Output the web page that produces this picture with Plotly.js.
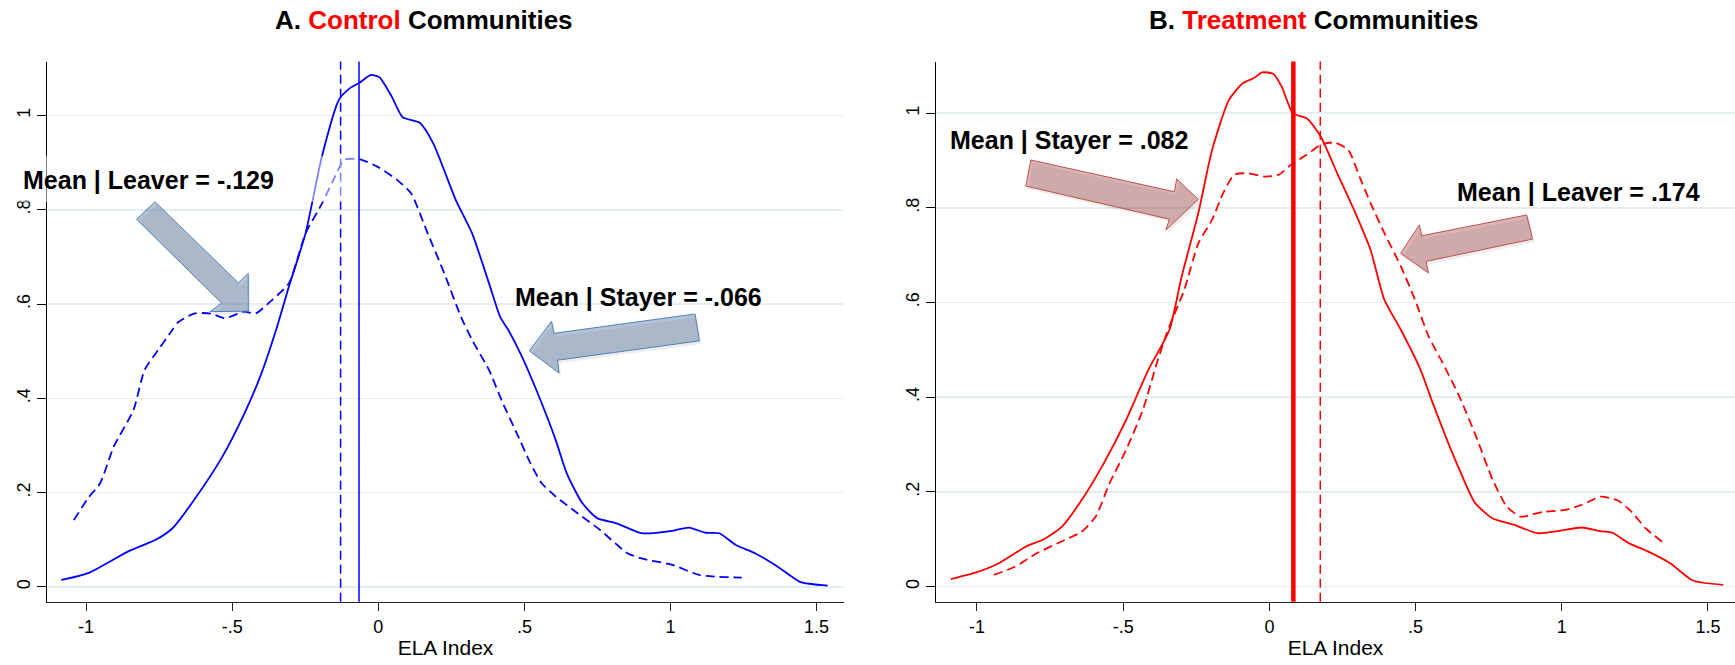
<!DOCTYPE html>
<html>
<head>
<meta charset="utf-8">
<script src="https://cdn.plot.ly/plotly-3.0.1.min.js"></script>
<style>html,body{margin:0;padding:0;background:#fff;}#chart{width:1735px;height:665px;}</style>
</head>
<body>
<div id="chart"></div>
<script>
// ---- Data ----
// Panel A: Control communities
const ctrlStayerX = [-1.085,-0.99,-0.857,-0.762,-0.705,-0.63,-0.534,-0.458,-0.40,-0.35,-0.306,-0.249,-0.193,-0.135,-0.097,-0.063,-0.025,0.004,0.046,0.084,0.141,0.188,0.265,0.321,0.379,0.417,0.445,0.492,0.55,0.607,0.645,0.698,0.749,0.816,0.901,1.006,1.063,1.12,1.167,1.224,1.291,1.367,1.443,1.538];
const ctrlStayerY = [0.015,0.030,0.075,0.10,0.124,0.185,0.276,0.368,0.453,0.545,0.637,0.750,0.913,1.033,1.058,1.070,1.086,1.081,1.040,0.996,0.985,0.941,0.821,0.750,0.644,0.573,0.545,0.488,0.404,0.312,0.241,0.178,0.146,0.135,0.114,0.119,0.126,0.115,0.114,0.089,0.071,0.043,0.011,0.003];
const ctrlLeaverX = [-1.042,-0.99,-0.952,-0.905,-0.838,-0.80,-0.753,-0.705,-0.686,-0.63,-0.573,-0.525,-0.458,-0.42,-0.363,-0.306,-0.249,-0.192,-0.154,-0.116,-0.063,-0.002,0.065,0.112,0.169,0.226,0.283,0.321,0.379,0.426,0.474,0.521,0.559,0.607,0.683,0.759,0.854,0.911,1.006,1.101,1.244];
const ctrlLeaverY = [0.142,0.191,0.220,0.298,0.375,0.46,0.503,0.545,0.561,0.58,0.58,0.570,0.584,0.58,0.609,0.644,0.750,0.814,0.863,0.906,0.907,0.891,0.863,0.835,0.750,0.665,0.573,0.524,0.46,0.390,0.326,0.262,0.220,0.192,0.156,0.121,0.071,0.059,0.047,0.025,0.020];
// Panel B: Treatment communities
const treatStayerX = [-1.089,-1.003,-0.927,-0.832,-0.775,-0.709,-0.642,-0.566,-0.49,-0.414,-0.342,-0.30,-0.243,-0.196,-0.139,-0.091,-0.053,-0.025,0.013,0.042,0.080,0.128,0.175,0.232,0.289,0.346,0.393,0.45,0.517,0.555,0.603,0.65,0.703,0.764,0.84,0.916,0.992,1.068,1.125,1.172,1.229,1.296,1.372,1.448,1.552];
const treatStayerY = [0.016,0.030,0.049,0.085,0.099,0.127,0.183,0.261,0.352,0.458,0.542,0.655,0.789,0.922,1.027,1.063,1.074,1.086,1.083,1.056,1.0,0.989,0.951,0.873,0.796,0.711,0.606,0.542,0.458,0.394,0.317,0.247,0.177,0.144,0.130,0.113,0.118,0.125,0.118,0.114,0.092,0.074,0.049,0.013,0.004];
const treatLeaverX = [-0.942,-0.87,-0.794,-0.699,-0.642,-0.594,-0.547,-0.49,-0.433,-0.385,-0.347,-0.291,-0.243,-0.196,-0.158,-0.12,-0.072,-0.015,0.032,0.08,0.128,0.175,0.222,0.27,0.308,0.346,0.393,0.45,0.498,0.545,0.593,0.65,0.707,0.764,0.812,0.859,0.935,1.011,1.068,1.134,1.192,1.239,1.287,1.343];
const treatLeaverY = [0.025,0.042,0.071,0.099,0.116,0.148,0.218,0.289,0.373,0.472,0.542,0.627,0.725,0.775,0.831,0.870,0.873,0.866,0.870,0.894,0.912,0.933,0.938,0.922,0.866,0.810,0.747,0.676,0.606,0.528,0.472,0.401,0.317,0.225,0.169,0.148,0.158,0.162,0.173,0.190,0.182,0.158,0.123,0.095];

// Group means (vertical lines)
const ctrlMeanLeaver = -0.129, ctrlMeanStayer = -0.066;
const treatMeanStayer = 0.082, treatMeanLeaver = 0.174;

// Tick labels
const xTickVals = [-1,-0.5,0,0.5,1,1.5];
const xTickText = ["-1","-.5","0",".5","1","1.5"];
const yTickVals = [0,0.2,0.4,0.6,0.8,1];
const yTickText = ["0",".2",".4",".6",".8","1"];

// Callout labels
const labelCtrlLeaver = "Mean | Leaver = -.129";
const labelCtrlStayer = "Mean | Stayer = -.066";
const labelTreatStayer = "Mean | Stayer = .082";
const labelTreatLeaver = "Mean | Leaver = .174";

// ---- Styling ----
const BLUE = "#0000ff", RED = "#ff0000";
const FONT = "Liberation Sans, Arial, Helvetica, sans-serif";
const DASH = "9px,5px";
const W = 1735, H = 665;

const traces = [
  {x: ctrlStayerX, y: ctrlStayerY, xaxis:"x", yaxis:"y", mode:"lines", line:{color:BLUE, width:1.8, shape:"spline", smoothing:0.6}, hoverinfo:"skip"},
  {x: ctrlLeaverX, y: ctrlLeaverY, xaxis:"x", yaxis:"y", mode:"lines", line:{color:BLUE, width:1.8, dash:DASH, shape:"spline", smoothing:0.6}, hoverinfo:"skip"},
  {x: treatStayerX, y: treatStayerY, xaxis:"x2", yaxis:"y2", mode:"lines", line:{color:RED, width:1.8, shape:"spline", smoothing:0.6}, hoverinfo:"skip"},
  {x: treatLeaverX, y: treatLeaverY, xaxis:"x2", yaxis:"y2", mode:"lines", line:{color:RED, width:1.8, dash:DASH, shape:"spline", smoothing:0.6}, hoverinfo:"skip"}
];

function xAxis(domain, range) {
  return {
    domain: domain, range: range, showgrid:false, zeroline:false,
    showline:true, linecolor:"#222", linewidth:1.4,
    ticks:"outside", ticklen:8, tickwidth:1, tickcolor:"#222",
    tickvals:xTickVals, ticktext:xTickText,
    tickfont:{family:FONT, size:18, color:"#000"},
    title:{text:"ELA Index", font:{family:FONT, size:21, color:"#000"}, standoff:4},
    fixedrange:true
  };
}
function yAxis(anchor, range) {
  return {
    domain:[0.0952, 0.9075], range: range, anchor: anchor,
    showgrid:true, gridcolor:"#e4edf1", gridwidth:1.6, zeroline:false,
    showline:true, linecolor:"#000", linewidth:1.3,
    ticks:"outside", ticklen:9, tickwidth:1, tickcolor:"#000",
    tickvals:yTickVals, ticktext:yTickText, tickangle:-90,
    tickfont:{family:FONT, size:18, color:"#000"},
    fixedrange:true
  };
}

function vline(xref, yref, xv, width, dash, color) {
  return {type:"line", xref:xref, yref:yref+" domain", x0:xv, x1:xv, y0:0, y1:1,
          line:{color:color, width:width, dash:dash}, layer:"above"};
}
function arrowPath(pts, dx, dy) {
  return "M " + pts.map(p => (p[0]+dx) + "," + (p[1]+dy)).join(" L ") + " Z";
}
function arrow(xref, yref, pts, fill, stroke) {
  return {type:"path", xref:xref, yref:yref, path:arrowPath(pts, 0, 0),
          fillcolor:fill, line:{color:stroke, width:1}, layer:"above"};
}
function shadow(xref, yref, pts) {
  // soft drop shadow, about 2px right and 3px down
  return {type:"path", xref:xref, yref:yref, path:arrowPath(pts, 0.007, -0.0065),
          fillcolor:"rgba(0,0,0,0.07)", line:{width:0}, layer:"above"};
}
const AFILL = "rgba(90,120,160,0.45)", ALINE = "rgb(79,129,189)";
const BFILL = "rgba(160,70,70,0.40)", BLINE = "rgb(192,80,77)";

const arrowA1 = [[-0.764,0.817],[-0.479,0.645],[-0.445,0.665],[-0.445,0.585],[-0.576,0.584],[-0.536,0.602],[-0.827,0.780]];
const arrowA2 = [[1.084,0.579],[1.099,0.522],[0.613,0.481],[0.619,0.454],[0.517,0.501],[0.593,0.564],[0.601,0.538]];
const arrowB1 = [[-0.816,0.901],[-0.833,0.846],[-0.342,0.776],[-0.354,0.753],[-0.243,0.818],[-0.317,0.861],[-0.325,0.834]];
const arrowB2 = [[0.880,0.785],[0.900,0.734],[0.536,0.687],[0.543,0.663],[0.449,0.704],[0.513,0.764],[0.521,0.741]];

const shapes = [
  vline("x","y", ctrlMeanLeaver, 1.5, DASH, BLUE),
  vline("x","y", ctrlMeanStayer, 1.5, "solid", BLUE),
  vline("x2","y2", treatMeanStayer, 4.5, "solid", RED),
  vline("x2","y2", treatMeanLeaver, 1.5, DASH, RED),
  // translucent white text box behind the panel-A leaver label
  {type:"rect", xref:"paper", yref:"paper", x0:15/W, x1:356/W, y0:1-202/H, y1:1-156/H,
   fillcolor:"rgba(255,255,255,0.5)", line:{width:0}, layer:"above"},
  shadow("x","y", arrowA1), shadow("x","y", arrowA2),
  shadow("x2","y2", arrowB1), shadow("x2","y2", arrowB2),
  arrow("x","y", arrowA1, AFILL, ALINE),
  arrow("x","y", arrowA2, AFILL, ALINE),
  arrow("x2","y2", arrowB1, BFILL, BLINE),
  arrow("x2","y2", arrowB2, BFILL, BLINE)
];

function label(xref, yref, x, y, text) {
  return {xref:xref, yref:yref, x:x, y:y, text:"<b>"+text+"</b>", showarrow:false,
          xanchor:"left", yanchor:"middle", font:{family:FONT, size:25, color:"#000"}};
}
const annotations = [
  {xref:"paper", yref:"paper", x:423.5/W, y:1-20/H, xanchor:"center", yanchor:"middle", showarrow:false,
   text:"<b>A. <span style='color:#ff0000'>Control</span> Communities</b>", font:{family:FONT, size:26, color:"#000"}},
  {xref:"paper", yref:"paper", x:1313/W, y:1-20/H, xanchor:"center", yanchor:"middle", showarrow:false,
   text:"<b>B. <span style='color:#ff0000'>Treatment</span> Communities</b>", font:{family:FONT, size:26, color:"#000"}},
  label("paper","paper", 21/W, 1-180/H, labelCtrlLeaver),
  label("x","y", 0.462, 0.614, labelCtrlStayer),
  label("x2","y2", -1.098, 0.943, labelTreatStayer),
  label("x2","y2", 0.635, 0.833, labelTreatLeaver)
];

const layout = {
  width:W, height:H,
  margin:{l:0, r:0, t:0, b:0},
  paper_bgcolor:"#fff", plot_bgcolor:"#fff",
  showlegend:false,
  font:{family:FONT, color:"#000"},
  xaxis: Object.assign(xAxis([47/W, 844/W], [-1.1338, 1.5938]), {anchor:"y"}),
  yaxis: yAxis("x", [-0.0312, 1.1145]),
  xaxis2: Object.assign(xAxis([936/W, 1.0], [-1.1402, 1.5924]), {anchor:"y2"}),
  yaxis2: yAxis("x2", [-0.0317, 1.109]),
  shapes: shapes,
  annotations: annotations
};

Plotly.newPlot("chart", traces, layout, {staticPlot:true, displayModeBar:false});
</script>
</body>
</html>
